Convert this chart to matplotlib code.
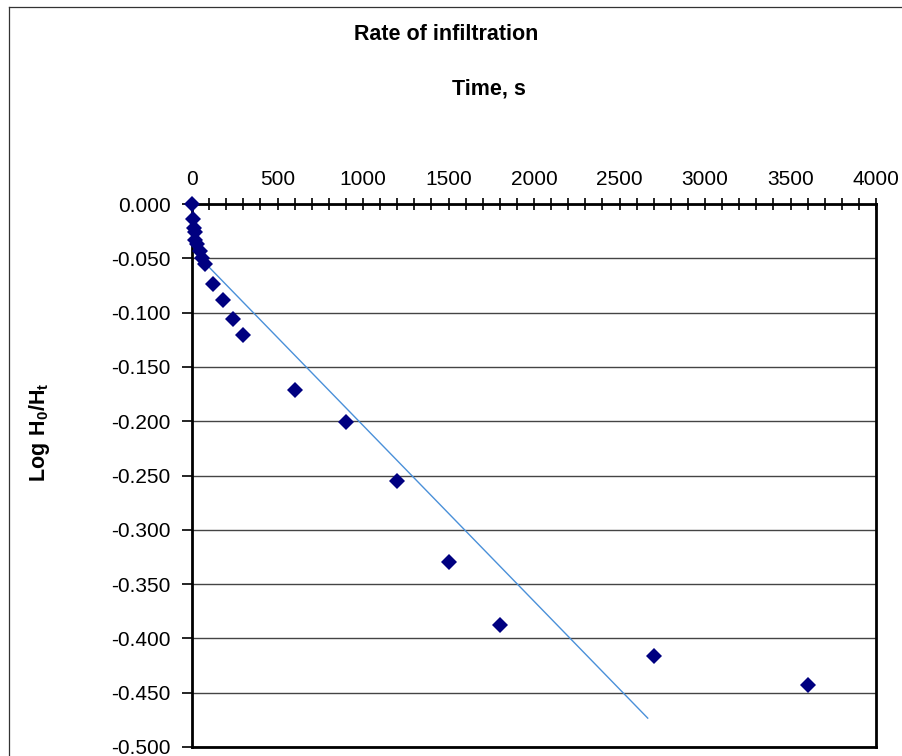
import matplotlib
matplotlib.use("Agg")
import matplotlib.pyplot as plt
from matplotlib.ticker import MultipleLocator, FuncFormatter
from matplotlib.lines import Line2D

plt.rcParams['font.family'] = ['Liberation Sans', 'DejaVu Sans']
plt.rcParams['axes.unicode_minus'] = False
plt.rcParams['mathtext.fontset'] = 'custom'
plt.rcParams['mathtext.rm'] = 'Liberation Sans'
plt.rcParams['mathtext.bf'] = 'Liberation Sans:bold'

# Data
time_s = [0, 5, 10, 15, 20, 30, 45, 60, 75, 120, 180, 240, 300,
          600, 900, 1200, 1500, 1800, 2700, 3600]
log_ratio = [0.000, -0.014, -0.022, -0.026, -0.033, -0.037, -0.043, -0.050,
             -0.055, -0.074, -0.088, -0.106, -0.121, -0.171, -0.201, -0.255,
             -0.330, -0.388, -0.416, -0.443]
fit_x = [0, 2665]
fit_y = [-0.042, -0.4734]

title = "Rate of infiltration"
xlabel = "Time, s"
ylabel = r"$\mathbf{Log\ H_0/H_t}$"

W, H = 902, 756
fig = plt.figure(figsize=(W / 100, H / 100), dpi=100)
fig.patch.set_facecolor('white')

# outer chart border (partially cropped)
fig.add_artist(Line2D([8.5 / W, 8.5 / W], [0, 1 - 6.5 / H], transform=fig.transFigure,
                      color='#333333', lw=0.9))
fig.add_artist(Line2D([8.5 / W, 1], [1 - 6.5 / H, 1 - 6.5 / H], transform=fig.transFigure,
                      color='#333333', lw=0.9))

ax = fig.add_axes([192 / W, 1 - 747 / H, (876 - 192) / W, (747 - 204) / H])
ax.set_xlim(0, 4000)
ax.set_ylim(-0.5, 0.0)

ax.xaxis.tick_top()
ax.xaxis.set_major_locator(MultipleLocator(500))
ax.xaxis.set_minor_locator(MultipleLocator(100))
ax.yaxis.set_major_locator(MultipleLocator(0.05))
ax.yaxis.set_major_formatter(FuncFormatter(
    lambda v, p: "0.000" if abs(v) < 1e-9 else f"{v:.3f}"))

ax.tick_params(axis='x', which='both', direction='inout', length=9, width=1.2,
               labelsize=15, pad=6, top=True, bottom=False)
ax.tick_params(axis='y', which='major', direction='out', length=7, width=1.2,
               labelsize=15, pad=8.5)

for s in ax.spines.values():
    s.set_linewidth(2.0)
    s.set_color('black')

ax.grid(axis='y', which='major', color='#444444', lw=1.0)
ax.set_axisbelow(True)

ax.plot(fit_x, fit_y, color='#4a90d9', lw=1.0, zorder=2)
ax.plot(time_s, log_ratio, linestyle='none', marker='D', markersize=8.5,
        color='#000080', markeredgewidth=0, zorder=3, clip_on=False)

fig.text(446 / W, 1 - 35 / H, title, ha='center', va='center',
         fontsize=15.5, fontweight='bold')
fig.text(489 / W, 1 - 89 / H, xlabel, ha='center', va='center',
         fontsize=15.5, fontweight='bold')
fig.text(40 / W, 1 - 432 / H, ylabel, ha='center', va='center',
         fontsize=15.5, rotation=90)

fig.savefig("out.png", dpi=100, facecolor='white')
